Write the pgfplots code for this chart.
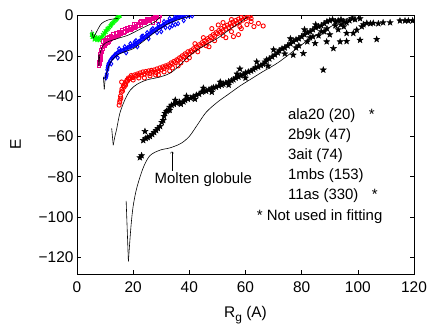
\documentclass[border=0pt]{standalone}
\usepackage{fontspec}
\setmainfont{Liberation Sans}
\usepackage{pgfplots}
\pgfplotsset{compat=1.18}

% filled five-pointed star, like MATLAB's pentagram marker
\pgfdeclareplotmark{pstar}{%
  \pgfpathmoveto{\pgfpointpolar{90}{\pgfplotmarksize}}%
  \pgfpathlineto{\pgfpointpolar{126}{0.42\pgfplotmarksize}}%
  \pgfpathlineto{\pgfpointpolar{162}{\pgfplotmarksize}}%
  \pgfpathlineto{\pgfpointpolar{198}{0.42\pgfplotmarksize}}%
  \pgfpathlineto{\pgfpointpolar{234}{\pgfplotmarksize}}%
  \pgfpathlineto{\pgfpointpolar{270}{0.42\pgfplotmarksize}}%
  \pgfpathlineto{\pgfpointpolar{306}{\pgfplotmarksize}}%
  \pgfpathlineto{\pgfpointpolar{342}{0.42\pgfplotmarksize}}%
  \pgfpathlineto{\pgfpointpolar{18}{\pgfplotmarksize}}%
  \pgfpathlineto{\pgfpointpolar{54}{0.42\pgfplotmarksize}}%
  \pgfpathclose\pgfusepathqfillstroke}

\begin{document}
\begin{tikzpicture}
\path[use as bounding box] (-77bp,-55bp) rectangle (359bp,274bp);
\begin{axis}[
    at={(0,0)}, anchor=south west,
    scale only axis, width=337bp, height=258.5bp,
    xmin=0, xmax=120, ymin=-128.3, ymax=0,
    xtick={0,20,...,120}, ytick={-120,-100,...,0},
    yticklabels={−120,−100,−80,−60,−40,−20,0},
    /pgf/number format/assume math mode=true,
    tick label style={font=\fontsize{15.5}{18}\selectfont},
    xticklabel style={yshift=-4bp},
    major tick length=4bp,
    tick style={black, line width=0.5pt},
    axis line style={line width=0.7pt},
    xlabel={R\raisebox{-0.55ex}{\fontsize{12}{12}\selectfont g} (A)},
    ylabel={E},
    label style={font=\fontsize{15.5}{18}\selectfont},
    xlabel style={yshift=-7bp},
    ylabel style={yshift=11bp},
    clip marker paths=true,
]
% ala20 (20)
\addplot[only marks, mark=x, mark size=2.3pt, color=green, mark options={line width=1pt}] coordinates {
(5.2,-9.7) (5.5,-10.8) (5.8,-10.5) (6.3,-11.2) (7,-11.6) (7.6,-11.8) (8.2,-11.6)
(8.8,-11.3) (9.3,-10.3) (9.8,-9.2) (10.3,-8.3) (10.6,-7.4) (11,-6.8) (11.5,-5.9)
(12,-5) (12.4,-4.1) (12.9,-3.5) (13.4,-2.8) (13.9,-2.1) (14.3,-1.4) (14.7,-0.8) (15.3,-0.2)
(5.4,-9) (6,-10) (6.6,-10.6) (7.3,-11) (8,-11) (8.6,-10.6) (9.1,-9.6) (9.6,-8.6)
(10.1,-7.7) (10.8,-6.5) (11.2,-6.2) (11.8,-5.3) (12.2,-4.5) (12.7,-3.8) (13.2,-3)
(13.7,-2.3) (14.1,-1.7) (14.5,-1) (15,-0.4) (6.2,-12) (7.2,-12.3) (8,-12.4)
};
% 2b9k (47)
\addplot[only marks, mark=square, mark size=1.7pt, color=magenta, mark options={line width=0.9pt}] coordinates {
(7.9,-25) (8,-23) (8.1,-21) (8.3,-19) (8.5,-17) (9,-15.5) (9.5,-14.5) (10,-13.5)
(10.5,-13) (11,-12.5) (11.7,-12) (12.5,-11.2) (13.5,-10.5) (14.5,-10) (15.5,-9)
(16.5,-8.5) (17.7,-7.8) (19,-7) (20,-6.3) (21,-5.5) (22,-5) (23.5,-3.7) (24.5,-3)
(25.5,-2.5) (26.5,-1.8) (27.5,-1.2) (28.5,-0.5) (29.6,-0.2) (29,-2.5) (27,-3.5)
(12,-10.2) (14,-9) (16,-7.4) (18,-6.4) (20.5,-4.5) (22.5,-3.2) (9.2,-12.8) (10.8,-11.2)
(8.2,-24) (8.4,-22) (8.6,-20) (8.8,-18) (9.2,-16.5) (9.8,-15) (10.3,-14) (10.8,-13.5)
(11.3,-12.8) (12,-11.5) (13,-11) (14,-10.3) (15,-9.5) (16,-8.8) (17,-8) (18.3,-7.3)
(19.5,-6.6) (20.5,-5.9) (21.5,-5.2) (22.8,-4.4) (24,-3.4) (25,-2.8) (26,-2.2)
(27,-1.5) (28,-0.9) (29,-0.4) (13,-9.5) (15,-8.3) (17,-6.8) (19,-5.6) (21,-4.4)
(23,-3) (25,-1.6) (10,-12) (11.5,-10.8)
};
% 3ait (74)
\addplot[only marks, mark=diamond, mark size=2.1pt, color=blue, mark options={line width=0.9pt}] coordinates {
(10.3,-31) (10.6,-29) (10.8,-27) (11,-25) (11.5,-23.5) (12,-22) (12.5,-21) (13,-20.5)
(13.5,-19.5) (14,-19) (15,-18) (16,-17.5) (17,-17) (18,-16) (19,-15.5) (20,-15)
(21,-14) (22,-13) (23,-12) (24,-11) (25,-10) (26,-9) (27,-8) (28,-7) (29,-6)
(30,-5.5) (31,-4.5) (32,-3.5) (33,-3) (34,-2.5) (35,-1.5) (36,-1) (37,-0.5)
(38,-0.2) (39,-0.4) (40,-0.2) (41,-0.2) (33,-6) (35,-4.5) (30,-8) (12.2,-24)
(14.5,-21) (17.5,-18.5) (21.5,-15.5) (25.5,-11.5) (28.5,-8.5) (31.5,-6) (26.5,-7.2)
(23.5,-10.2) (20.5,-13.2)
(10.5,-30) (10.9,-26) (11.2,-24) (11.8,-22.5) (12.8,-20.8) (13.8,-19.6) (14.5,-18.5)
(15.5,-17.8) (16.5,-17.2) (17.5,-16.6) (18.5,-15.8) (19.5,-15.2) (20.5,-14.5)
(21.5,-13.5) (22.5,-12.5) (23.5,-11.5) (24.5,-10.5) (25.5,-9.5) (26.5,-8.5)
(27.5,-7.5) (28.5,-6.5) (29.5,-5.8) (30.5,-5) (31.5,-4) (32.5,-3.2) (33.5,-2.8)
(34.5,-2) (35.5,-1.2) (36.5,-0.8) (37.5,-0.3) (15,-16.5) (17,-15.5) (19,-14)
(21,-12.5) (23,-10.5) (25,-8.5) (27,-6.5) (29,-4.5) (31,-3) (33,-1.5) (35,-0.5)
(36,-4) (34,-5) (38,-2.5)
};
% 1mbs (153)
\addplot[only marks, mark=o, mark size=2.1pt, color=red, mark options={line width=0.9pt}] coordinates {
(15,-44.5) (15.3,-42) (15.5,-40) (15.8,-38) (16,-36.5) (15.9,-33) (16.5,-35)
(17,-34) (17.5,-33) (18,-32.5) (18.5,-31.5) (19,-31) (19.5,-30.5) (20,-30.8)
(21,-30) (22,-29.5) (23,-29.5) (24,-29) (25,-28.5) (26,-28.8) (27,-28) (28,-28.2)
(29,-27.5) (30,-27) (31,-26.3) (32,-25.5) (33,-25) (34,-24) (35,-23.3) (36,-22.3)
(37,-21.3) (38,-20.5) (39,-19.5) (40,-19) (41,-18) (42,-17) (43,-16) (44,-15)
(45,-14.2) (46,-13.5) (47,-12.3) (48,-11) (49,-10.2) (50,-9) (51,-8.3) (52,-7.5)
(53,-6.8) (54,-6) (55,-5.2) (56,-4.5) (57,-3.8) (58,-3) (59,-2.3) (60,-1.5)
(61,-0.8) (61.6,-0.3) (62,-3) (64.6,-3.9) (66.3,-5.2) (57.5,-9.5) (55.7,-10.5)
(53,-11) (50.3,-4.7) (48,-6.5) (52,-3.5) (45,-11) (42,-14) (39,-22) (36,-25)
(33,-27.5) (29,-29.5) (24,-31) (47,-15.5) (58.5,-6.5) (60.5,-4.5) (55,-2)
(15.2,-43) (15.6,-41) (16.2,-37.5) (16.8,-35.5) (17.3,-34.5) (17.8,-32) (18.3,-31)
(19.3,-29.8) (20.5,-29.5) (21.5,-29) (22.5,-28.5) (23.5,-28) (24.5,-27.8) (25.5,-27.5)
(26.5,-27.2) (27.5,-27) (28.5,-26.5) (29.5,-26) (30.5,-25.5) (31.5,-25) (32.5,-24.5)
(33.5,-23.5) (34.5,-22.8) (35.5,-22) (36.5,-21) (37.5,-20) (38.5,-19) (39.5,-18)
(40.5,-17.5) (41.5,-16.5) (42.5,-15.5) (43.5,-14.5) (44.5,-13.5) (45.5,-12.5)
(46.5,-11.5) (47.5,-10.5) (48.5,-9.5) (49.5,-8.5) (50.5,-7.5) (51.5,-6.5) (52.5,-5.5)
(53.5,-4.8) (54.5,-4) (55.5,-3.3) (56.5,-2.5) (57.5,-1.8) (58.5,-1) (59.5,-0.5)
(20,-32) (22,-31) (26,-30) (28,-29.5) (31,-28) (34,-26) (37,-23.5) (40,-21) (43,-18)
(46,-15) (49,-12.5) (52,-10) (55,-8) (58,-5.5) (62,-1.5) (63,-5.5)
};
% 11as (330)
\addplot[only marks, mark=pstar, mark size=3.2pt, color=black] coordinates {
(22.4,-70.5) (23,-69.5) (24.2,-57.5) (23.6,-62) (24.5,-61) (25.2,-60.5) (26,-60)
(26.8,-59) (27.5,-58) (28.2,-57) (28.8,-56) (29.6,-55) (30.2,-53) (30.7,-52)
(31,-50) (31.3,-48.5) (31.9,-47.5) (32.5,-47) (33,-45.5) (33.7,-44.5) (34.5,-44)
(35.5,-43.5) (36.5,-43) (37.9,-42.8) (38.5,-42) (39.5,-41.5) (40.5,-41) (41.4,-40.3)
(42.5,-39.5) (43.5,-39) (44.5,-38) (45,-37.5) (46,-37.5) (47,-36.8) (48,-36.2)
(48.6,-35.8) (49.5,-35.5) (50.5,-35) (51.5,-34.5) (52.1,-34) (53,-33.5) (54,-32.8)
(55,-32.3) (55.7,-31.8) (56.5,-31) (57.5,-30.5) (58.3,-29.8) (59.2,-29.3) (60,-28.5)
(61,-28) (62,-27.5) (62.8,-26.8) (63.5,-26) (64.5,-25.5) (65.5,-24.8) (66.3,-24.2)
(67,-23) (67.5,-22) (68.5,-21.5) (69.5,-20.5) (70.5,-19.5) (71.5,-18.5) (72,-17.5)
(73,-16.5) (74,-16) (75,-15) (76,-14) (77,-13) (78,-12) (79,-11.5) (80,-10.5)
(81,-9.5) (82,-8.5) (83,-8) (84,-7) (85,-6) (86,-5.5) (87,-5) (88,-4) (89,-3)
(90,-2.5) (91,-2) (92,-3) (93,-2.5) (94,-2) (95,-3) (96,-3.5) (97,-2.5) (98,-1.5)
(99,-2) (100.8,-1.5) (102,-4.5) (103.2,-3.8) (104.5,-4) (105.5,-3.8) (107.3,-4)
(109,-3.5) (111.5,-3.5) (115,-2.6) (116.8,-2.6) (118,-2.6) (119.5,-2.6)
(77,-19.6) (80.6,-18.8) (84.8,-13.8) (87.7,-27) (91.3,-16.3) (88.9,-13) (93.7,-13)
(96,-12.8) (98.4,-8.8) (100.8,-12.2) (106.7,-11.8) (99.6,-7.2) (101.4,-5.5)
(96,-8.8) (86,-10) (82,-13) (79,-15) (90,-9.5) (93,-7) (95,-5.5) (84,-10.5) (88,-8)
(58,-26.5) (60,-31) (64,-23) (68,-25) (70,-17) (74,-19) (76,-11.5) (78,-16) (81,-7)
(83,-11) (85,-4.5) (87,-8) (89,-6.5) (92,-5) (94,-4.5) (42,-41.5) (45,-36) (48,-38)
(51,-33) (54,-34.5) (57,-29) (33,-47) (35,-42) (37,-44) (39,-40)
};
% fitted curves
\addplot[black, line width=0.6pt] coordinates {(5.2,-7.2) (5.8,-11.3)};
\addplot[black, line width=0.6pt, smooth, tension=0.5] coordinates {
(5.8,-11.3) (7.6,-6.4) (8.8,-3.9) (11.1,-2.2) (14.7,-1.4)};
\addplot[black, line width=0.6pt] coordinates {(7.7,-19.5) (7.8,-25.1)};
\addplot[black, line width=0.6pt, smooth, tension=0.5] coordinates {
(7.8,-25.1) (8.2,-18.8) (9.4,-14.6) (11.1,-13) (14.7,-11.3) (18.3,-9.7) (23,-6.4)
(27.8,-3.1) (29.6,-0.7)};
\addplot[black, line width=0.6pt] coordinates {(9.4,-30.4) (9.7,-36.6)};
\addplot[black, line width=0.6pt, smooth, tension=0.5] coordinates {
(9.7,-36.6) (10.2,-30.4) (11.8,-23.5) (14,-20) (16,-18.5) (18,-17.5) (20,-16.5)
(22,-14.5) (24.8,-11.5) (27,-9) (29.6,-6.5) (33,-3.7) (36.7,-1.8) (40.2,-0.2)};
\addplot[black, line width=0.6pt] coordinates {(12.35,-56) (12.9,-64.3)};
\addplot[black, line width=0.6pt, smooth, tension=0.5] coordinates {
(12.9,-64.3) (13.5,-60) (14.1,-56.5) (15.3,-48.3) (17.1,-41.7) (19,-37) (21.3,-34.2)
(24.8,-32) (29.6,-30.5) (33,-28.7) (36,-25.5) (40,-20) (44,-16) (50,-11.3)
(54.5,-6.8) (58,-3.5) (61,-0.5)};
\addplot[black, line width=0.6pt] coordinates {(17.5,-92) (18.3,-122)};
\addplot[black, line width=0.6pt, smooth, tension=0.5] coordinates {
(18.3,-122) (19.2,-105) (20,-94.6) (21.3,-85.5) (23.6,-75.5) (26,-69.5) (29.6,-66.8)
(33.1,-65.7) (37,-63.5) (40,-60) (43,-54) (46,-48) (50,-43) (54,-39) (58,-35)
(62,-31.5) (66,-28) (72,-23) (82,-12.5) (91,-5) (97,-1) (100,0)};
% annotations
\draw[->, line width=0.5pt] (axis cs:33.8,-77) -- (axis cs:33.8,-67.5);
\begin{scope}[every node/.style={font=\fontsize{15}{18}\selectfont, anchor=west, inner sep=0pt}]
\node at (axis cs:27.6,-81.6) {Molten globule};
\node at (axis cs:75.1,-49.9) {ala20 (20)\hspace{0.9em}*};
\node at (axis cs:75.1,-59.7) {2b9k (47)};
\node at (axis cs:75.1,-69.6) {3ait (74)};
\node at (axis cs:75.1,-79.3) {1mbs (153)};
\node at (axis cs:75.1,-89.6) {11as (330)\hspace{0.9em}*};
\node at (axis cs:64,-99.9) {* Not used in fitting};
\end{scope}
\end{axis}
\end{tikzpicture}
\end{document}
